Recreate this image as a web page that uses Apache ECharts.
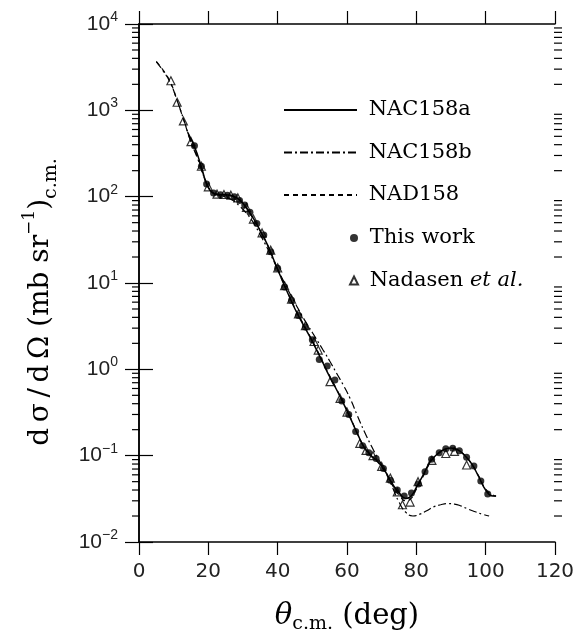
<!DOCTYPE html>
<html>
<head>
<meta charset="utf-8">
<script src="https://cdn.jsdelivr.net/npm/echarts@6/dist/echarts.min.js"></script>
<style>
html, body { margin: 0; padding: 0; background: #fff; }
#main { width: 574px; height: 641px; }
</style>
</head>
<body>
<div id="main"></div>
<script>
// [theta (deg), dsigma/dOmega (mb/sr)]
var nac158a = [[14,560],[16,380],[18,222],[19.5,140],[21,113],[23,106],[25,105],[27,102],[29,92],[31,74],[33,56],[35,40],[37,28],[39,18],[41,11.5],[43,7.5],[45,5.0],[47,3.5],[49,2.5],[51,1.75],[53,1.2],[55,0.82],[57,0.58],[59,0.40],[61,0.27],[63,0.18],[65,0.125],[67,0.1],[69,0.085],[71,0.066],[73,0.048],[75,0.037],[77,0.032],[78.5,0.034],[80,0.043],[82,0.06],[84,0.085],[86,0.104],[88,0.118],[90,0.123],[92,0.117],[94,0.1],[96,0.08],[98,0.057],[100,0.04],[102,0.034],[103,0.034]];
var nac158b = [[5,3650],[7,2850],[9,2100],[11,1300],[13,760],[15,430],[17,270],[19,160],[21,112],[23,104],[25,99],[27,91],[29,78],[31,64],[33,50],[35,36],[37,25.5],[39,17.5],[41,12],[43,8.3],[45,5.9],[47,4.2],[49,3.1],[51,2.3],[53,1.7],[55,1.25],[57,0.9],[59,0.65],[61,0.45],[63,0.29],[65,0.19],[67,0.13],[69,0.092],[71,0.067],[73,0.044],[75,0.029],[77,0.022],[79,0.020],[81,0.021],[83,0.023],[85,0.0255],[87,0.027],[89,0.0278],[91,0.0275],[93,0.026],[95,0.024],[97,0.0224],[99,0.021],[101,0.020]];
var nad158 = [[5,3700],[7,2900],[9,2150],[11,1300],[13,750],[15,430],[17,280],[19,160],[21,115],[23,106],[25,105],[27,101],[29,91],[31,74],[33,55],[35,40],[37,28],[39,18],[41,11.6],[43,7.6],[45,5.1],[47,3.6],[49,2.55],[51,1.8],[53,1.22],[55,0.84],[57,0.59],[59,0.41],[61,0.275],[63,0.18],[65,0.124],[67,0.098],[69,0.083],[71,0.064],[73,0.046],[75,0.035],[77,0.030],[78.5,0.032],[80,0.041],[82,0.058],[84,0.083],[86,0.103],[88,0.117],[90,0.122],[92,0.116],[94,0.1],[96,0.08],[98,0.058],[100,0.041],[102,0.035],[103,0.034]];
var thisWork = [[16,390],[18,225],[19.5,140],[21.5,110],[23.5,105],[25.5,104],[27.5,100],[29,90],[30.5,80],[32,66],[34,49],[36,36],[38,23],[40,14.8],[42,9.0],[44,6.3],[46,4.2],[48,3.1],[50,2.2],[52,1.3],[54.3,1.09],[56.5,0.75],[58.5,0.43],[60.5,0.30],[62.5,0.19],[64.5,0.13],[66.3,0.108],[68.4,0.093],[70.5,0.071],[72.5,0.052],[74.5,0.040],[76.5,0.034],[78.6,0.037],[80.6,0.047],[82.5,0.065],[84.4,0.091],[86.6,0.108],[88.5,0.120],[90.5,0.122],[92.4,0.114],[94.5,0.096],[96.6,0.076],[98.6,0.051],[100.6,0.036]];
var nadasen = [[9.2,2200],[11,1240],[12.8,753],[15,433],[18,225],[20,130],[22.5,107],[24.5,106],[26.5,104],[28.5,97],[31,75],[33,55],[35.5,38],[38,24],[40,15],[42,9.3],[44,6.5],[46,4.4],[48,3.2],[50.5,2.1],[51.7,1.67],[55.1,0.72],[58,0.46],[60,0.32],[63.7,0.139],[65.5,0.115],[67.5,0.1],[70,0.075],[72.5,0.055],[74.5,0.038],[76,0.027],[78.2,0.029],[80.5,0.05],[84.5,0.088],[88.5,0.106],[91,0.112],[94.5,0.078]];

// minor ticks 2..9 x 10^n (drawn on both frame sides)
var minorTicks = [];
for (var e = -2; e < 4; e++) {
  for (var m = 2; m < 10; m++) {
    minorTicks.push([60, +(m * Math.pow(10, e)).toPrecision(3)]);
  }
}

var myChart = echarts.init(document.getElementById('main'));

var black = '#000';
var lineW = 1.5;

function yAxisDef(pos) {
  return {
    type: 'log', logBase: 10, min: 0.01, max: 10000, position: pos,
    axisLine: {lineStyle: {color: black, width: lineW}},
    axisTick: {inside: false, length: 14, lineStyle: {color: black, width: 1.2}},
    axisLabel: {show: pos == 'left', margin: 21,
      formatter: function (v) {
        var p = Math.round(Math.log10(v));
        return '{b|10}{s|' + (p < 0 ? '\u2212' + (-p) : p) + '}';
      },
      rich: {
        b: {fontSize: 21, fontFamily: 'Liberation Sans', color: '#222', lineHeight: 28},
        s: {fontSize: 14, fontFamily: 'Liberation Sans', color: '#222', lineHeight: 14, verticalAlign: 'top'}
      }
    },
    splitLine: {show: false}
  };
}

var T = '\u2009';
var yLeft = yAxisDef('left');
yLeft.name = '{n|d' + T + '\u03c3' + T + '/' + T + 'd' + T + '\u03a9 (mb sr}{p|\u22121}{n|)}{c|c.m.}';
yLeft.nameLocation = 'middle';
yLeft.nameRotate = 90;
yLeft.nameGap = 78;
yLeft.nameTextStyle = {
  padding: [0, 38, 0, 0],
  rich: {
    n: {fontSize: 28, fontFamily: 'DejaVu Serif', color: black, lineHeight: 40},
    p: {fontSize: 17, fontFamily: 'DejaVu Serif', color: black, lineHeight: 18, verticalAlign: 'top'},
    c: {fontSize: 19, fontFamily: 'DejaVu Serif', color: black, lineHeight: 20, verticalAlign: 'bottom'}
  }
};

option = {
  backgroundColor: '#fff',
  animation: false,
  grid: {left: 139, right: 19, top: 24, bottom: 99, outerBoundsMode: 'none'},
  legend: [
    {data: ['NAC158a', 'NAC158b', 'NAD158'], orient: 'vertical', left: 283, top: 99, padding: 0,
      itemWidth: 73, itemHeight: 14, itemGap: 20.5,
      itemStyle: {opacity: 0},
      formatter: function (name) { return ' ' + name; },
      textStyle: {fontSize: 21, fontFamily: 'DejaVu Serif', color: black, lineHeight: 22}},
    {data: ['This work', 'Nadasen et al.'], orient: 'vertical', left: 349, top: 227, padding: 0,
      itemWidth: 8, itemHeight: 8, itemGap: 20.5,
      formatter: function (name) {
        return name == 'Nadasen et al.' ? ' Nadasen {i|et al.}' : ' ' + name;
      },
      textStyle: {fontSize: 21, fontFamily: 'DejaVu Serif', color: black, lineHeight: 22,
        rich: {i: {fontSize: 21, fontFamily: 'DejaVu Serif', fontStyle: 'italic', color: black, lineHeight: 22}}}}
  ],
  xAxis: [
    {type: 'value', min: 0, max: 120, interval: 20, position: 'bottom',
      axisLine: {onZero: false, lineStyle: {color: black, width: lineW}},
      axisTick: {length: 13, lineStyle: {color: black, width: 1.2}},
      axisLabel: {margin: 20, fontSize: 20, fontFamily: 'DejaVu Sans', color: '#222'},
      splitLine: {show: false},
      name: '{t|\u03b8}{c|c.m.}{n| (deg)}', nameLocation: 'middle', nameGap: 56,
      nameTextStyle: {
        rich: {
          t: {fontSize: 29, fontFamily: 'DejaVu Serif', fontStyle: 'italic', color: black, lineHeight: 36},
          c: {fontSize: 19, fontFamily: 'DejaVu Serif', color: black, lineHeight: 20, verticalAlign: 'bottom'},
          n: {fontSize: 29, fontFamily: 'DejaVu Serif', color: black, lineHeight: 36}
        }
      }},
    {type: 'value', min: 0, max: 120, interval: 20, position: 'top',
      axisLine: {onZero: false, lineStyle: {color: black, width: lineW}},
      axisTick: {length: 13, lineStyle: {color: black, width: 1.2}},
      axisLabel: {show: false},
      splitLine: {show: false}}
  ],
  yAxis: [yLeft, yAxisDef('right')],
  series: [
    {name: 'minor ticks', type: 'custom', data: minorTicks, silent: true, clip: false,
      zlevel: 1, z: 10,
      renderItem: function (params, api) {
        var y = api.coord([60, api.value(1)])[1];
        var cs = params.coordSys;
        var xl = cs.x;
        var xr = cs.x + cs.width;
        return {type: 'group', children: [
          {type: 'line', shape: {x1: xl - 7, y1: y, x2: xl + 1, y2: y},
            style: {stroke: black, lineWidth: 1.2}},
          {type: 'line', shape: {x1: xr - 1, y1: y, x2: xr + 7, y2: y},
            style: {stroke: black, lineWidth: 1.2}}
        ]};
      }},
    {name: 'NAC158a', type: 'line', data: nac158a, smooth: true, symbol: 'none',
      lineStyle: {color: black, width: 1.5, type: 'solid'}, itemStyle: {color: black}, z: 3},
    {name: 'NAC158b', type: 'line', data: nac158b, smooth: true, symbol: 'none',
      lineStyle: {color: black, width: 1.2, type: [8, 3, 2, 3]}, itemStyle: {color: black}, z: 2},
    {name: 'NAD158', type: 'line', data: nad158, smooth: true, symbol: 'none',
      lineStyle: {color: black, width: 1.2, type: [5, 4]}, itemStyle: {color: black}, z: 2},
    {name: 'This work', type: 'scatter', data: thisWork, symbol: 'circle', symbolSize: 7,
      itemStyle: {color: black}, z: 4},
    {name: 'Nadasen et al.', type: 'scatter', data: nadasen, symbol: 'triangle', symbolSize: 8,
      itemStyle: {color: 'rgba(255,255,255,0)', borderColor: black, borderWidth: 1.2}, z: 5}
  ]
};
myChart.setOption(option);
</script>
</body>
</html>
